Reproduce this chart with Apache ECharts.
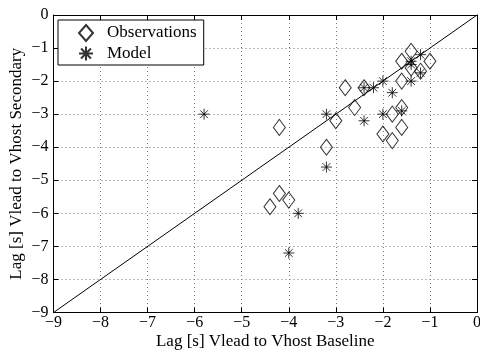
<!DOCTYPE html>
<html>
<head>
<meta charset="utf-8">
<script src="https://cdn.jsdelivr.net/npm/echarts@6/dist/echarts.min.js"></script>
<style>
  html, body { margin: 0; padding: 0; background: #fff; }
  #chart { width: 480px; height: 354px; }
</style>
</head>
<body>
<div id="chart"></div>
<script>
// Lag values in seconds
const obsX = [-4.2, -2.8, -2.6, -3.0, -3.2, -2.4, -4.2, -4.4, -4.0,
              -1.6, -1.8, -1.6, -2.0, -1.8,
              -1.4, -1.6, -1.0, -1.4, -1.2, -1.6];
const obsY = [-3.4, -2.2, -2.8, -3.2, -4.0, -2.2, -5.4, -5.8, -5.6,
              -2.8, -3.0, -3.4, -3.6, -3.8,
              -1.1, -1.4, -1.4, -1.6, -1.7, -2.0];

const modelX = [-5.8, -3.2, -3.2, -2.4, -2.4, -2.2, -2.0, -1.8, -2.0, -1.6,
                -3.8, -4.0, -1.2, -1.4, -1.4, -1.2, -1.4];
const modelY = [-3.0, -3.0, -4.6, -3.2, -2.2, -2.2, -2.0, -2.35, -3.0, -2.9,
                -6.0, -7.2, -1.2, -1.4, -1.5, -1.75, -2.0];

const refLine = [[-9, -9], [0, 0]];
const axisMin = -9, axisMax = 0, axisStep = 1;
const seriesNames = ['Observations', 'Model'];
const xTitle = 'Lag [s] Vlead to Vhost Baseline';
const yTitle = 'Lag [s] Vlead to Vhost Secondary';

const FONT = '"Liberation Serif", "Times New Roman", serif';
const asterisk = 'path://M0,-1L0,1M-1,0L1,0M-0.707,-0.707L0.707,0.707M-0.707,0.707L0.707,-0.707';
const minus = v => String(v).replace('-', '\u2212');

const gridStyle = { show: true, lineStyle: { color: '#777', width: 1, type: [1, 3] } };
const mainAxis = (name, extra) => Object.assign({
  type: 'value', min: axisMin, max: axisMax, interval: axisStep,
  name: name, nameLocation: 'middle', nameMoveOverlap: false,
  nameTextStyle: { fontFamily: FONT, fontSize: 17, color: '#000' },
  axisLine: { show: true, onZero: false, lineStyle: { color: '#000', width: 1 } },
  axisTick: { show: true, inside: true, length: 5, lineStyle: { color: '#000' } },
  axisLabel: { fontFamily: FONT, fontSize: 16, color: '#000', formatter: minus },
  splitLine: gridStyle
}, extra);
const mirrorAxis = (pos) => ({
  type: 'value', min: axisMin, max: axisMax, interval: axisStep, position: pos,
  axisLine: { show: true, onZero: false, lineStyle: { color: '#000', width: 1 } },
  axisTick: { show: true, inside: true, length: 5, lineStyle: { color: '#000' } },
  axisLabel: { show: false }, splitLine: { show: false }
});

const zip = (xs, ys) => xs.map((x, i) => [x, ys[i]]);

const chart = echarts.init(document.getElementById('chart'), null, { renderer: 'canvas' });
chart.setOption({
  animation: false,
  backgroundColor: '#fff',
  grid: { left: 53.5, right: 3, top: 15, bottom: 41.5, containLabel: false, outerBoundsMode: 'none' },
  xAxis: [
    mainAxis(xTitle, { position: 'bottom', nameGap: 21, axisLabel: { fontFamily: FONT, fontSize: 16, color: '#000', formatter: minus, margin: 2 } }),
    mirrorAxis('top')
  ],
  yAxis: [
    mainAxis(yTitle, { position: 'left', nameGap: 28, axisLabel: { fontFamily: FONT, fontSize: 16, color: '#000', formatter: minus, margin: 5 } }),
    mirrorAxis('right')
  ],
  legend: {
    left: 58, top: 20, orient: 'vertical',
    data: seriesNames,
    backgroundColor: '#fff', borderColor: '#000', borderWidth: 1, borderRadius: 0,
    padding: [4, 7, 3, 20], itemGap: 3, itemWidth: 14, itemHeight: 16,
    textStyle: { fontFamily: FONT, fontSize: 17, color: '#000', padding: [0, 0, 0, 9] }
  },
  series: [
    {
      type: 'line', data: refLine, showSymbol: false, silent: true,
      lineStyle: { color: '#000', width: 1 }, z: 1
    },
    {
      name: seriesNames[0], type: 'scatter', data: zip(obsX, obsY),
      symbol: 'diamond', symbolSize: [12, 16],
      itemStyle: { color: 'rgba(0,0,0,0)', borderColor: '#000', borderWidth: 1 }, z: 3
    },
    {
      name: seriesNames[1], type: 'scatter', data: zip(modelX, modelY),
      symbol: asterisk, symbolSize: 11,
      itemStyle: { color: 'rgba(0,0,0,0)', borderColor: '#000', borderWidth: 1 }, z: 3
    }
  ]
});
</script>
</body>
</html>
